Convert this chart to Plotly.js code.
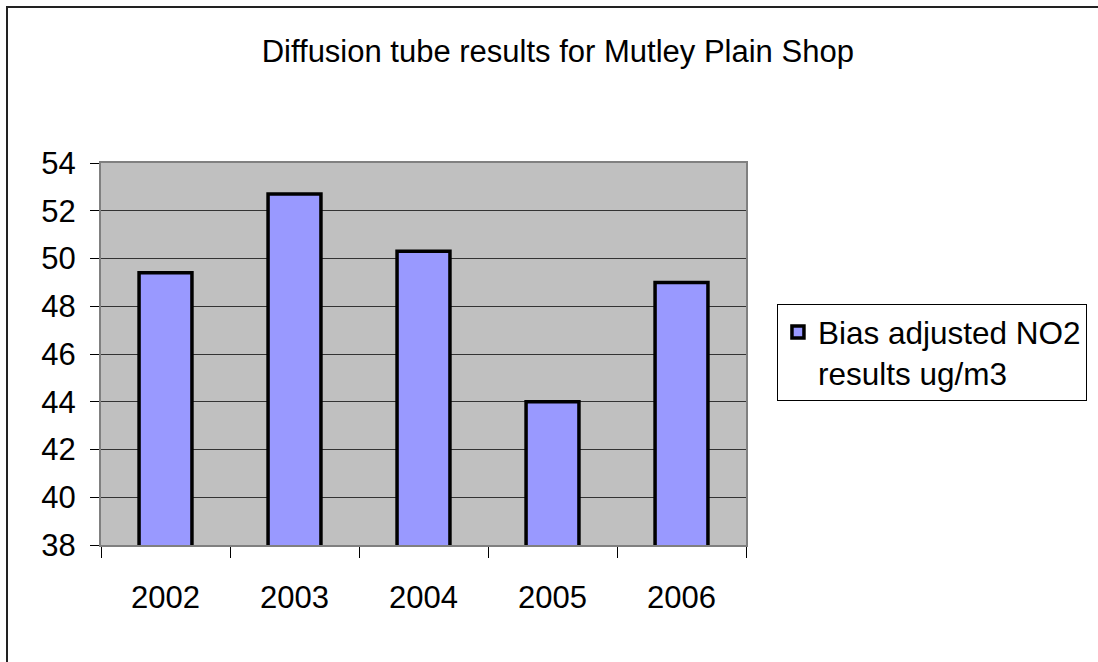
<!DOCTYPE html>
<html>
<head>
<meta charset="utf-8">
<script src="https://cdn.plot.ly/plotly-3.0.1.min.js"></script>
<style>
  html, body { margin: 0; padding: 0; background: #fff; }
  #wrap { position: relative; width: 1098px; height: 662px; }
  #chart { width: 1098px; height: 662px; }
  #frame { position: absolute; left: 6px; top: 6px; right: 0; bottom: 0;
           border-left: 2px solid #222; border-top: 2px solid #222; pointer-events: none; }
</style>
</head>
<body>
<div id="wrap">
  <div id="chart"></div>
  <div id="frame"></div>
</div>
<script>
const years = ['2002', '2003', '2004', '2005', '2006'];
const no2Values = [49.4, 52.7, 50.3, 44.0, 49.0];
const seriesName = 'Bias adjusted NO2<br>results ug/m3';
const yTicks = [38, 40, 42, 44, 46, 48, 50, 52, 54];

const FONT = 'Liberation Sans, Arial, sans-serif';

const trace = {
  type: 'bar',
  x: years,
  y: no2Values,
  name: seriesName,
  showlegend: true,
  marker: { color: '#9999ff', line: { color: '#000000', width: 3.5 } },
  hoverinfo: 'x+y'
};

const layout = {
  width: 1098,
  height: 662,
  margin: { l: 101, r: 352, t: 163, b: 117, autoexpand: false },
  paper_bgcolor: '#ffffff',
  plot_bgcolor: '#c0c0c0',
  font: { family: FONT, size: 31, color: '#000' },
  title: {
    text: 'Diffusion tube results for Mutley Plain Shop',
    font: { family: FONT, size: 31, color: '#000' },
    xref: 'container', yref: 'container',
    x: 0.508, xanchor: 'center',
    y: 0.922, yanchor: 'middle'
  },
  bargap: 0.59,
  xaxis: {
    type: 'category',
    tickson: 'boundaries',
    ticks: 'outside',
    ticklen: 11,
    tickcolor: '#000',
    tickwidth: 1,
    ticklabelstandoff: 24,
    showline: true, linecolor: '#808080', linewidth: 2, mirror: true,
    showgrid: false,
    tickfont: { family: FONT, size: 31, color: '#000' }
  },
  yaxis: {
    range: [38, 54],
    tickvals: yTicks,
    ticktext: yTicks.map(String),
    ticks: 'outside',
    ticklen: 9,
    tickcolor: '#000',
    tickwidth: 1,
    ticklabelstandoff: 8,
    showline: true, linecolor: '#808080', linewidth: 2, mirror: true,
    showgrid: true, gridcolor: '#333333', gridwidth: 1,
    zeroline: false,
    tickfont: { family: FONT, size: 31, color: '#000' }
  },
  showlegend: true,
  legend: {
    x: 1.048, xanchor: 'left',
    y: 0.631, yanchor: 'top',
    bordercolor: '#000', borderwidth: 1,
    bgcolor: '#ffffff',
    valign: 'top',
    font: { family: FONT, size: 31.5, color: '#000' }
  }
};

Plotly.newPlot('chart', [trace], layout, { displayModeBar: false, staticPlot: true });
</script>
</body>
</html>
